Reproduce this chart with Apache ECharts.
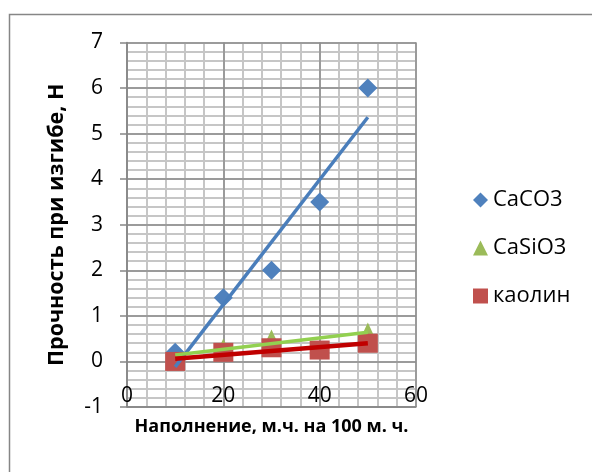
<!DOCTYPE html>
<html>
<head>
<meta charset="utf-8">
<script src="https://cdn.jsdelivr.net/npm/echarts@6/dist/echarts.min.js"></script>
<style>
  html, body { margin: 0; padding: 0; background: #fff; }
  #chart { width: 592px; height: 472px; }
</style>
</head>
<body>
<div id="chart"></div>
<script>
// filler content, parts per 100 parts of rubber
const fill = [10, 20, 30, 40, 50]
// flexural strength, N
const caco3 = [0.2, 1.4, 2.0, 3.5, 6.0]
const casio3 = [0.05, 0.35, 0.55, 0.3, 0.7]
const kaolin = [0.0, 0.2, 0.3, 0.25, 0.4]

const names = ['CaCO3', 'CaSiO3', 'каолин']
const markColors = ['#4f81bd', '#9bbb59', '#c0504d']
const trendColors = ['#4a7ebb', '#92d050', '#c00000']
const symbols = ['diamond', 'triangle', 'rect']
const symbolSizes = [[19, 19], [13, 14], [20, 19]]

const font = '"Open Sans", "Noto Sans", sans-serif'

// least squares line over the points, drawn between first and last x
function trend(xs, ys) {
  const n = xs.length
  const mx = xs.reduce((a, b) => a + b, 0) / n
  const my = ys.reduce((a, b) => a + b, 0) / n
  let sxy = 0, sxx = 0
  xs.forEach((x, i) => { sxy += (x - mx) * (ys[i] - my); sxx += (x - mx) ** 2 })
  const k = sxy / sxx
  const x0 = xs[0], x1 = xs[n - 1]
  return [[x0, my + k * (x0 - mx)], [x1, my + k * (x1 - mx)]]
}

const sets = [caco3, casio3, kaolin]
const scatter = sets.map((ys, i) => ({
  name: names[i],
  type: 'scatter',
  symbol: symbols[i],
  symbolSize: symbolSizes[i],
  itemStyle: { color: markColors[i], opacity: 1 },
  z: 2 + i,
  data: fill.map((x, j) => [x, ys[j]])
}))
const lines = sets.map((ys, i) => ({
  type: 'line',
  showSymbol: false,
  silent: true,
  z: 6 + i,
  lineStyle: { color: trendColors[i], width: i === 2 ? 4.5 : 3.5 },
  data: trend(fill, ys)
}))

const gridMajor = { color: '#8c8c8c', width: 1.5 }
const gridMinor = { color: '#c6c6c6', width: 2 }
const axisGray = { color: '#868686', width: 1.5 }

// hidden helper axis that only draws the fine grid
const minorAxis = (min, max, interval) => ({
  type: 'value', min, max, interval, z: 0,
  axisLine: { show: false }, axisTick: { show: false }, axisLabel: { show: false },
  splitLine: { show: true, lineStyle: gridMinor }
})

const chart = echarts.init(document.getElementById('chart'))
chart.setOption({
  animation: false,
  backgroundColor: '#fff',
  graphic: [{
    type: 'rect', left: 7, top: 12, silent: true,
    shape: { width: 600, height: 500 },
    style: { fill: 'none', stroke: '#868686', lineWidth: 1.5 }
  }],
  grid: { left: 127, right: 176, top: 42.5, bottom: 65 },
  legend: {
    orient: 'vertical',
    left: 468, top: 184,
    itemWidth: 15, itemHeight: 15, itemGap: 26,
    textStyle: { fontFamily: font, fontSize: 22, lineHeight: 22, color: '#000', padding: [0, 0, 0, 0] },
    data: names.map((n, i) => ({ name: n, icon: symbols[i] }))
  },
  xAxis: [{
    type: 'value', min: 0, max: 60, interval: 20, z: 1,
    name: 'Наполнение, м.ч. на 100 м. ч.',
    nameLocation: 'middle', nameGap: 11,
    nameTextStyle: { fontFamily: font, fontSize: 18, fontWeight: 'bold', color: '#000', verticalAlign: 'top' },
    axisLine: { show: true, onZero: false, lineStyle: axisGray },
    axisTick: { show: false },
    axisLabel: { inside: true, margin: 0, fontFamily: font, fontSize: 21, color: '#000' },
    splitLine: { show: true, lineStyle: gridMajor }
  }, minorAxis(0, 60, 4)],
  yAxis: [{
    type: 'value', min: -1, max: 7, interval: 1, z: 1,
    name: 'Прочность при изгибе, Н',
    nameLocation: 'middle', nameGap: 59,
    nameTextStyle: { fontFamily: font, fontSize: 21.5, fontWeight: 'bold', color: '#000' },
    axisLine: { show: true, onZero: false, lineStyle: axisGray },
    axisTick: { show: true, length: 7, lineStyle: axisGray },
    axisLabel: { margin: 24, fontFamily: font, fontSize: 21, color: '#000' },
    splitLine: { show: true, lineStyle: gridMajor }
  }, minorAxis(-1, 7, 0.2)],
  series: [...scatter, ...lines]
})
</script>
</body>
</html>
